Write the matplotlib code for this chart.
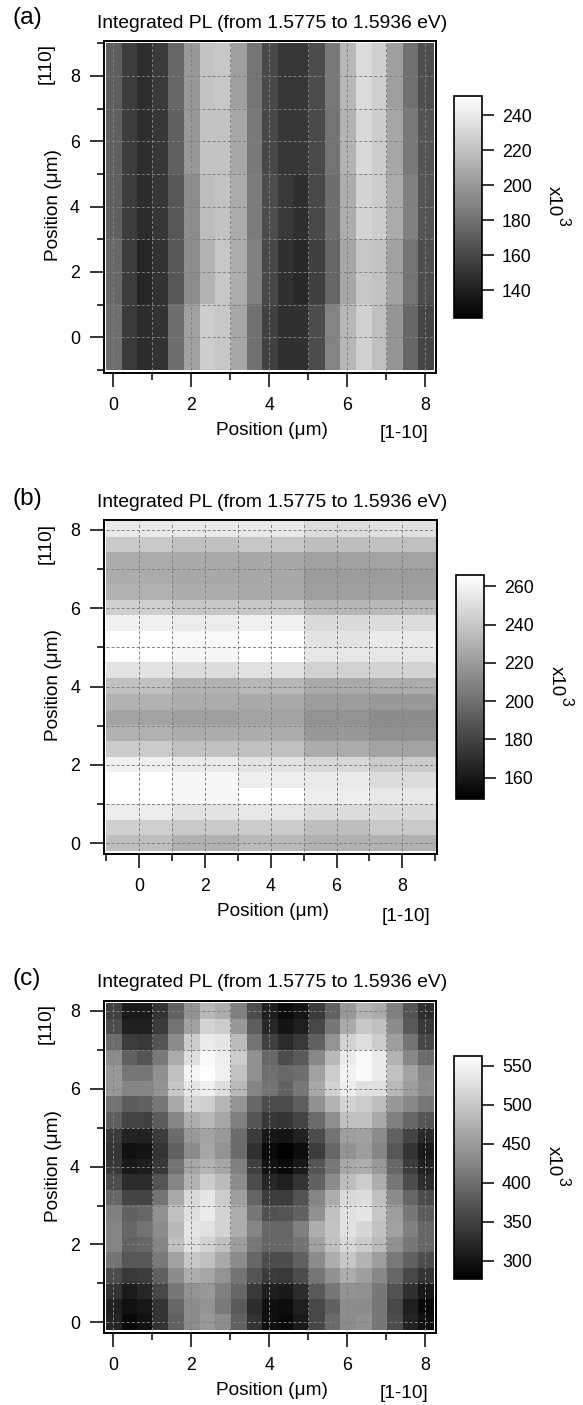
import numpy as np
import matplotlib
matplotlib.use("Agg")
import matplotlib.pyplot as plt

plt.rcParams['font.family'] = ['Liberation Sans', 'DejaVu Sans']

W, H = 583, 1405
TITLE = "Integrated PL (from 1.5775 to 1.5936 eV)"

# integrated PL, x10^3 counts, rows listed from the top of each map down
map_a = [
    [171, 154, 147, 153, 175, 200, 221, 223, 203, 182, 161, 151, 151, 162, 184, 215, 233, 227, 203, 181, 163],
    [172, 154, 147, 151, 172, 200, 221, 221, 207, 185, 160, 151, 151, 161, 182, 213, 232, 226, 207, 185, 166],
    [172, 154, 146, 151, 167, 194, 218, 221, 209, 186, 162, 152, 147, 160, 179, 210, 229, 226, 209, 188, 166],
    [176, 154, 143, 149, 167, 194, 213, 223, 210, 188, 160, 148, 144, 156, 175, 207, 223, 221, 204, 182, 163],
    [179, 153, 146, 149, 179, 204, 226, 223, 207, 181, 157, 148, 148, 162, 189, 215, 228, 219, 198, 175, 158],
]
map_b = [
    [256, 256, 256, 250, 252],
    [241, 237, 240, 236, 237],
    [228, 227, 226, 223, 224],
    [228, 226, 226, 221, 221],
    [230, 228, 227, 222, 222],
    [244, 240, 240, 233, 234],
    [259, 257, 259, 249, 250],
    [266, 263, 266, 253, 256],
    [266, 262, 266, 255, 255],
    [253, 250, 252, 245, 246],
    [237, 231, 233, 227, 228],
    [230, 228, 227, 221, 219],
    [224, 222, 224, 216, 213],
    [230, 228, 228, 219, 215],
    [242, 237, 237, 228, 224],
    [259, 256, 253, 248, 242],
    [266, 262, 258, 256, 250],
    [266, 262, 266, 258, 255],
    [257, 253, 255, 250, 249],
    [244, 241, 242, 236, 241],
    [236, 230, 234, 230, 230],
]
map_c = [
    [349, 306, 306, 334, 386, 443, 483, 471, 420, 363, 311, 288, 300, 343, 386, 449, 477, 469, 420, 371, 328],
    [363, 314, 311, 343, 406, 457, 514, 506, 449, 383, 323, 300, 311, 357, 411, 469, 500, 492, 434, 377, 340],
    [397, 346, 340, 371, 434, 506, 540, 534, 486, 406, 349, 326, 340, 386, 443, 512, 526, 506, 454, 406, 357],
    [434, 386, 371, 414, 469, 526, 557, 543, 506, 440, 391, 363, 377, 429, 483, 540, 557, 540, 477, 429, 397],
    [449, 411, 409, 437, 492, 552, 563, 546, 494, 440, 400, 394, 400, 457, 506, 549, 557, 540, 494, 460, 429],
    [449, 426, 426, 443, 500, 534, 546, 526, 483, 426, 406, 386, 411, 466, 512, 543, 529, 529, 483, 454, 434],
    [406, 380, 386, 411, 466, 514, 509, 480, 443, 391, 363, 363, 383, 440, 477, 514, 506, 489, 449, 429, 409],
    [383, 354, 351, 380, 426, 471, 483, 463, 420, 371, 340, 337, 354, 397, 437, 492, 492, 466, 420, 391, 371],
    [343, 317, 314, 346, 397, 449, 460, 449, 397, 343, 303, 300, 314, 363, 406, 454, 457, 434, 386, 354, 323],
    [334, 297, 300, 334, 386, 434, 463, 443, 397, 331, 288, 280, 291, 346, 391, 443, 454, 426, 374, 334, 306],
    [340, 306, 311, 340, 406, 463, 477, 463, 420, 349, 297, 288, 306, 371, 411, 466, 471, 449, 391, 346, 314],
    [363, 326, 326, 371, 426, 477, 506, 486, 434, 363, 320, 311, 334, 386, 434, 489, 506, 471, 411, 363, 328],
    [391, 354, 354, 406, 466, 520, 534, 506, 454, 389, 346, 346, 369, 426, 471, 520, 523, 492, 434, 391, 363],
    [420, 386, 391, 440, 492, 526, 540, 514, 471, 411, 369, 371, 386, 440, 492, 529, 534, 500, 454, 411, 380],
    [426, 391, 406, 434, 483, 534, 529, 512, 471, 426, 391, 391, 420, 471, 497, 529, 517, 494, 457, 420, 391],
    [426, 386, 391, 426, 492, 529, 514, 492, 454, 411, 391, 391, 406, 457, 492, 520, 506, 486, 440, 411, 391],
    [406, 374, 374, 414, 457, 500, 492, 466, 434, 391, 363, 363, 386, 434, 471, 500, 477, 454, 414, 386, 363],
    [363, 340, 346, 386, 434, 471, 463, 443, 406, 371, 343, 340, 363, 409, 440, 471, 454, 429, 391, 357, 334],
    [334, 308, 320, 357, 411, 443, 449, 420, 391, 340, 311, 306, 328, 377, 411, 443, 440, 411, 369, 331, 303],
    [314, 297, 303, 334, 391, 434, 443, 414, 377, 328, 294, 291, 311, 357, 386, 434, 434, 411, 357, 311, 286],
    [317, 286, 297, 334, 386, 434, 449, 434, 386, 334, 294, 288, 306, 357, 397, 434, 440, 411, 363, 317, 294],
]

ticks_a = [140, 160, 180, 200, 220, 240]
ticks_b = [160, 180, 200, 220, 240, 260]
ticks_c = [300, 350, 400, 450, 500, 550]

panels = [
    dict(label="(a)", data=map_a, extent=(-0.2, 8.2, -1.0, 9.0),
         frame=(104, 41, 436, 373), xlim=(-0.239, 8.283), ylim=(-1.093, 9.07),
         xt=range(0, 9), yt=range(-1, 10), grid_y=range(0, 9),
         vmin=124, vmax=251, cticks=ticks_a, cbar=(453.5, 96, 482, 318),
         tag_y=24, title_y=27.5, y110=63.5, ypos=205.5,
         xl=(272, 435), xd=(403.7, 437.7), exp_x=553, exp_y=201),
    dict(label="(b)", data=map_b, extent=(-1.0, 9.0, -0.2, 8.2),
         frame=(104.3, 520, 437.3, 854), xlim=(-1.054, 9.06), ylim=(-0.273, 8.254),
         xt=range(-1, 10), yt=range(0, 9), grid_y=range(0, 9),
         vmin=149, vmax=266, cticks=ticks_b, cbar=(456, 575, 484, 798.7),
         tag_y=505, title_y=506.7, y110=543, ypos=685,
         xl=(273.3, 916), xd=(405.8, 921), exp_x=556, exp_y=681),
    dict(label="(c)", data=map_c, extent=(-0.2, 8.2, -0.2, 8.2),
         frame=(104, 1000.7, 436, 1332.7), xlim=(-0.239, 8.283), ylim=(-0.267, 8.263),
         xt=range(0, 9), yt=range(0, 9), grid_y=range(0, 9),
         vmin=277, vmax=563, cticks=ticks_c, cbar=(453.5, 1055.7, 482, 1278.7),
         tag_y=985, title_y=987, y110=1023, ypos=1166,
         xl=(272, 1395), xd=(403.7, 1397.7), exp_x=553, exp_y=1161),
]

fig = plt.figure(figsize=(W / 100, H / 100), dpi=100)


def add_axes_px(x0, y0, x1, y1):
    return fig.add_axes([x0 / W, 1 - y1 / H, (x1 - x0) / W, (y1 - y0) / H])


def text_px(x, y, s, **kw):
    fig.text(x / W, 1 - y / H, s, **kw)


for p in panels:
    ax = add_axes_px(*p['frame'])
    im = ax.imshow(p['data'], cmap='gray', vmin=p['vmin'], vmax=p['vmax'], extent=p['extent'],
                   origin='upper', aspect='auto', interpolation='nearest')
    ax.set_xlim(*p['xlim'])
    ax.set_ylim(*p['ylim'])

    # dashed grid stops at the edge of the map
    x0, x1, y0, y1 = p['extent']
    ax.vlines(range(0, 9), y0, y1, colors='0.5', linewidth=0.7, linestyles=(0, (3, 2.2)))
    ax.hlines(p['grid_y'], x0, x1, colors='0.5', linewidth=0.7, linestyles=(0, (3, 2.2)))

    ax.set_xticks([t for t in p['xt'] if t % 2 == 0])
    ax.set_xticks([t for t in p['xt'] if t % 2 != 0], minor=True)
    ax.set_yticks([t for t in p['yt'] if t % 2 == 0])
    ax.set_yticks([t for t in p['yt'] if t % 2 != 0], minor=True)
    ax.tick_params(which='major', length=9.8, width=1.1, labelsize=12.8, pad=7.5)
    ax.tick_params(which='minor', length=5, width=1.1)
    for s in ax.spines.values():
        s.set_linewidth(1.4)

    cax = add_axes_px(*p['cbar'])
    cb = fig.colorbar(im, cax=cax, ticks=p['cticks'])
    cb.ax.tick_params(length=8.8, width=1.1, labelsize=12.8, pad=5.5)
    cb.outline.set_linewidth(1.2)

    text_px(13, p['tag_y'], p['label'], fontsize=17.6, ha='left', va='baseline')
    text_px(97, p['title_y'], TITLE, fontsize=13.85, ha='left', va='baseline')
    text_px(46, p['y110'], "[110]", fontsize=13.7, rotation=90, ha='center', va='center')
    text_px(53, p['ypos'], "Position (\u03bcm)", fontsize=13.7, rotation=90, ha='center', va='center')
    text_px(p['xl'][0], p['xl'][1], "Position (\u03bcm)", fontsize=13.7, ha='center', va='baseline')
    text_px(p['xd'][0], p['xd'][1], "[1-10]", fontsize=13.7, ha='center', va='baseline')
    text_px(p['exp_x'], p['exp_y'], "x10", fontsize=13.5, rotation=-90, ha='center', va='center')
    text_px(p['exp_x'] + 10, p['exp_y'] + 20.5, "3", fontsize=11.5, rotation=-90, ha='center', va='center')

fig.savefig("out.png", dpi=100)
